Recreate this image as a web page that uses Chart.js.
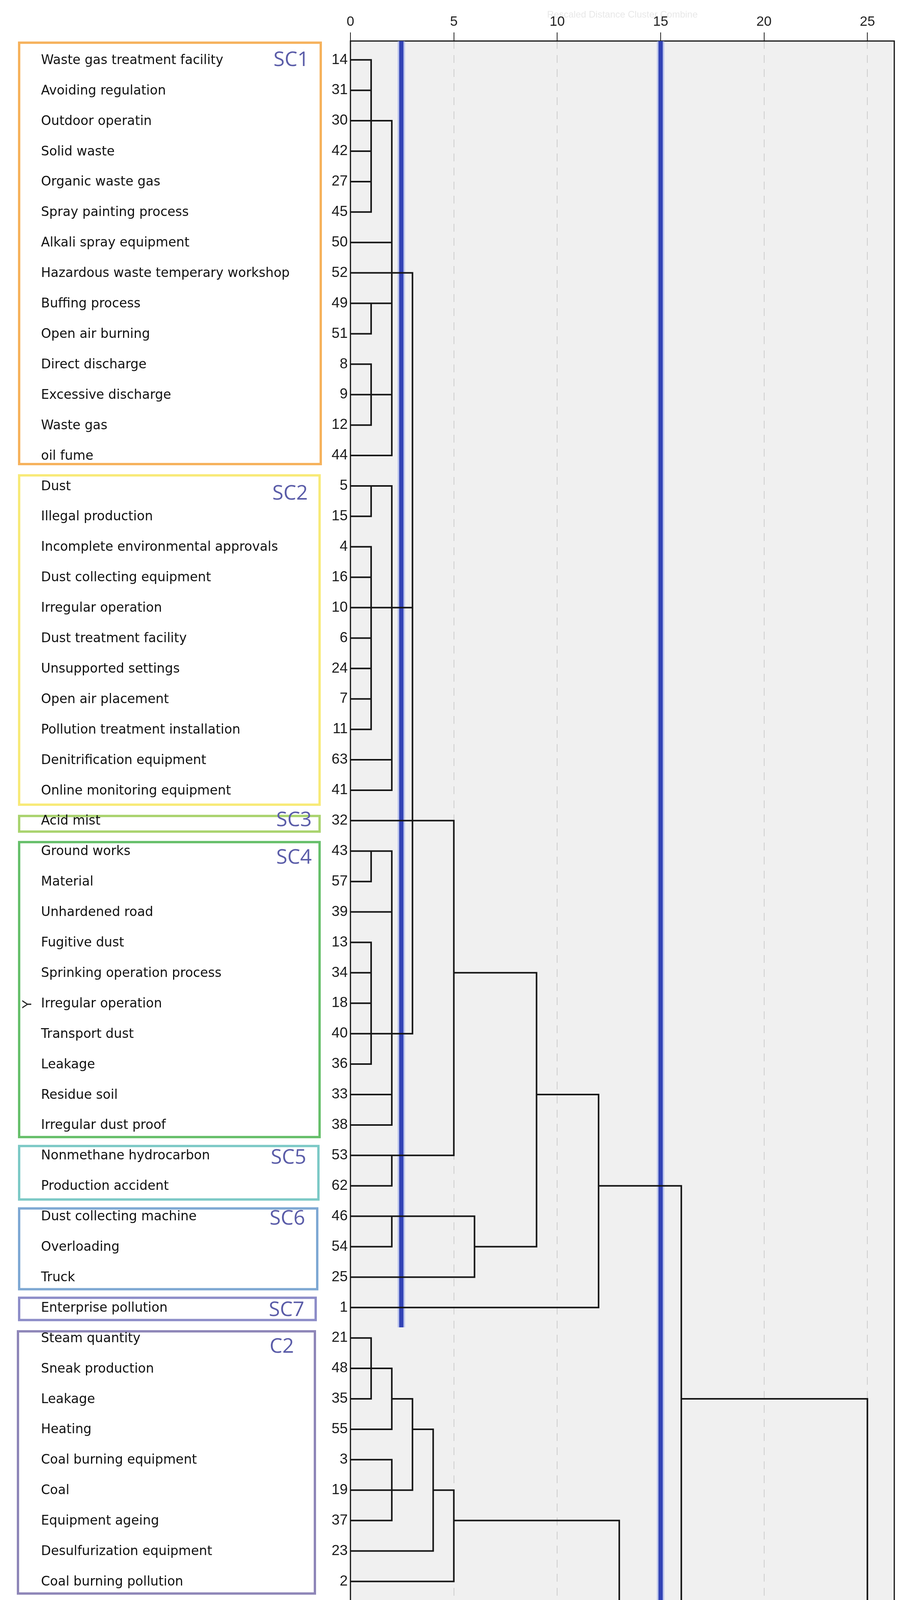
<!DOCTYPE html>
<html>
<head>
<meta charset="utf-8">
<title>Dendrogram</title>
<script src="https://cdn.jsdelivr.net/npm/chart.js@4.4.1/dist/chart.umd.min.js"></script>
<style>
  html, body { margin: 0; padding: 0; background: #fff; }
  canvas { display: block; }
</style>
</head>
<body>
<canvas id="dendro" width="2319" height="5123"></canvas>
<script>
// leaves, top to bottom
const leafIds = [14,31,30,42,27,45,50,52,49,51,8,9,12,44,
  5,15,4,16,10,6,24,7,11,63,41,
  32,
  43,57,39,13,34,18,40,36,33,38,
  53,62,
  46,54,25,
  1,
  21,48,35,55,3,19,37,23,2,
  20,26,22,29,47,58,
  56,61,59,28,17,60];

const leafLabels = ['Waste gas treatment facility','Avoiding regulation','Outdoor operatin','Solid waste','Organic waste gas',
  'Spray painting process','Alkali spray equipment','Hazardous waste temperary workshop','Buffing process','Open air burning',
  'Direct discharge','Excessive discharge','Waste gas','oil fume',
  'Dust','Illegal production','Incomplete environmental approvals','Dust collecting equipment','Irregular operation',
  'Dust treatment facility','Unsupported settings','Open air placement','Pollution treatment installation',
  'Denitrification equipment','Online monitoring equipment',
  'Acid mist',
  'Ground works','Material','Unhardened road','Fugitive dust','Sprinking operation process','Irregular operation',
  'Transport dust','Leakage','Residue soil','Irregular dust proof',
  'Nonmethane hydrocarbon','Production accident',
  'Dust collecting machine','Overloading','Truck',
  'Enterprise pollution',
  'Steam quantity','Sneak production','Leakage','Heating','Coal burning equipment','Coal','Equipment ageing',
  'Desulfurization equipment','Coal burning pollution',
  'Sulfur dioxide','Particulate matter','Air pollution sources','Nitrogrn oxides','Fraudulent test','Fuel',
  'Congestion','Diesel vehicle','Higher emission vehicle','Automobile exhaust','Traffic pollution','Agricultural vehicle'];

const xTicks = [0, 5, 10, 15, 20, 25];

// merges bottom-up; a child is a leaf row (number) or an earlier merge ('m' + index)
const mergeHeight = [1,1,1,2, 1,1,2, 1,1,2, 3,2,5,2,6,9,12,
  1,2,2,3,4,5, 2,4,7,11,13,16, 1,5,10, 25];
const mergeOutRow = [2,8,11,7, 14,18,18, 26,32,32, 25,36,30,38,39,34,37,
  43,44,47,45,47,48, 52,54,53,54,51,44, 59,60,61, null];
const mergeChildren = [
  [0,1,2,3,4,5], [8,9], [10,11,12], ['m0',6,7,'m1','m2',13],
  [14,15], [16,17,18,19,20,21,22], ['m4','m5',23,24],
  [26,27], [29,30,31,32,33], ['m7',28,'m8',34,35],
  ['m3','m6',25,'m9'], [36,37], ['m10','m11'], [38,39], ['m13',40], ['m12','m14'], ['m15',41],
  [42,43,44], ['m17',45], [46,47,48], ['m18','m19'], ['m20',49], ['m21',50],
  [51,52,53], [54,55], ['m23','m24'], ['m25',56], ['m22','m26'], ['m16','m27'],
  [57,58,59,60], ['m29',61], ['m30',62],
  ['m28','m31']
];

// cut lines
const cutValue = [2.46, 15];
const cutEndRow = [41.65, 63.4];

// sub-cluster groups
const groupNames = ['SC1','SC2','SC3','SC4','SC5','SC6','SC7','C2','C3','C4'];
const groupFirst = [0,14,25,26,36,38,41,42,51,57];
const groupLast  = [13,24,25,35,37,40,41,50,56,62];

// ---- styling of the group boxes (pixels) ----
const boxColors = ['#f6b25c','#f8ea78','#a9d36e','#66bf6a','#7cc9c6','#7ea8d3','#8d8dc8','#8e86b8','#c59bbf','#f3a6c3'];
const boxPadTop = [47,30,15,26,27,23,28,20,20,22];
const boxPadBottom = [25,40,31,34,38,34,35,34,26,60];
const boxLeft = [46,46,46,46,46,46,46,43,43,46];
const boxRight = [824,821,821,821,818,815,811,809,811,807];
const nameX = [700,697,707,707,693,690,688,690,697,709];
const nameDy = [1,20,-1,17,6,7,7,23,14,21];

const Y_MIN = -0.62, Y_MAX = 62.69;

const childStart = c => typeof c === 'number' ? 0 : mergeHeight[+c.slice(1)];
const childRow = c => typeof c === 'number' ? c : mergeOutRow[+c.slice(1)];

const treePts = [];
mergeHeight.forEach((h, i) => {
  const rows = mergeChildren[i].map(childRow);
  mergeChildren[i].forEach(c => {
    treePts.push({x: childStart(c), y: childRow(c)}, {x: h, y: childRow(c)}, {x: null, y: null});
  });
  treePts.push({x: h, y: Math.min(...rows)}, {x: h, y: Math.max(...rows)}, {x: null, y: null});
});

const cutPts = [];
cutValue.forEach((v, i) => {
  cutPts.push({x: v, y: Y_MIN}, {x: v, y: cutEndRow[i]}, {x: null, y: null});
});

const framePlugin = {
  id: 'frame',
  beforeDraw(chart) {
    const {ctx, chartArea: a} = chart;
    ctx.save();
    ctx.fillStyle = '#f0f0f0';
    ctx.fillRect(a.left, a.top, a.right - a.left, a.bottom - a.top);
    ctx.restore();
  },
  beforeDatasetsDraw(chart) {
    const {ctx, chartArea: a} = chart;
    ctx.save();
    ctx.strokeStyle = '#111';
    ctx.lineWidth = 3;
    ctx.strokeRect(a.left, a.top, a.right - a.left, a.bottom - a.top);
    ctx.restore();
  }
};

const labelPlugin = {
  id: 'leafLabels',
  afterDraw(chart) {
    const {ctx} = chart;
    const y = chart.scales.y;
    ctx.save();
    groupNames.forEach((g, i) => {
      const top = y.getPixelForValue(groupFirst[i]) - boxPadTop[i];
      const bot = y.getPixelForValue(groupLast[i]) + boxPadBottom[i];
      ctx.strokeStyle = boxColors[i];
      ctx.lineWidth = 6;
      ctx.strokeRect(boxLeft[i] + 3, top + 3, boxRight[i] - boxLeft[i] - 6, bot - top - 6);
    });
    ctx.fillStyle = '#111';
    ctx.font = '33px "DejaVu Sans"';
    ctx.textBaseline = 'middle';
    ctx.textAlign = 'left';
    leafLabels.forEach((t, i) => ctx.fillText(t, 105, y.getPixelForValue(i) + 2));
    ctx.fillStyle = '#5a5ca8';
    ctx.font = '52px "Open Sans"';
    groupNames.forEach((g, i) => {
      ctx.fillText(g, nameX[i], y.getPixelForValue(groupFirst[i]) + nameDy[i]);
    });
    ctx.restore();
  }
};

new Chart(document.getElementById('dendro'), {
  type: 'scatter',
  data: {
    datasets: [
      { label: 'tree', data: treePts, showLine: true, spanGaps: false, borderColor: '#161616', borderWidth: 4,
        borderCapStyle: 'square', pointRadius: 0, order: 0 },
      { label: 'cut', data: cutPts, showLine: true, spanGaps: false, borderColor: '#3243b5', borderWidth: 11,
        pointRadius: 0, clip: false, order: 1 },
      { label: 'cut halo', data: cutPts, showLine: true, spanGaps: false, borderColor: 'rgba(150,165,235,0.55)', borderWidth: 19,
        pointRadius: 0, clip: false, order: 2 }
    ]
  },
  options: {
    responsive: false,
    devicePixelRatio: 1,
    animation: false,
    layout: { padding: { left: 0, right: 30, top: 0, bottom: 86 } },
    plugins: { legend: { display: false }, tooltip: { enabled: false } },
    scales: {
      x: {
        type: 'linear', position: 'top', min: 0, max: 26.3,
        afterBuildTicks: s => { s.ticks = xTicks.map(v => ({ value: v })); },
        afterFit: s => { s.height = 105; },
        ticks: { autoSkip: false, padding: 6, color: '#222', font: { family: 'Liberation Sans', size: 35 } },
        grid: { color: c => c.tick && c.tick.value === 0 ? 'rgba(0,0,0,0)' : '#cdcdcd', lineWidth: 2,
                tickColor: '#222', tickLength: 22, tickWidth: 2 },
        border: { display: false, dash: [20, 16] },
        title: { display: true, text: 'Rescaled Distance Cluster Combine', color: '#e8e8e8',
                 font: { family: 'Liberation Sans', size: 24 }, padding: { top: 24, bottom: 0 } }
      },
      y: {
        type: 'linear', reverse: true, min: Y_MIN, max: Y_MAX,
        afterBuildTicks: s => { s.ticks = leafIds.map((_, i) => ({ value: i })); },
        afterFit: s => { s.width = 897; },
        ticks: { autoSkip: false, padding: 7, color: '#1a1a1a', font: { family: 'Liberation Sans', size: 37 },
                 callback: v => leafIds[v] },
        grid: { display: false, drawTicks: false },
        border: { display: false },
        title: { display: true, text: 'Y', color: '#222', font: { family: 'Liberation Sans', size: 34 },
                 padding: { top: 50, bottom: 0 } }
      }
    }
  },
  plugins: [framePlugin, labelPlugin]
});
</script>
</body>
</html>
